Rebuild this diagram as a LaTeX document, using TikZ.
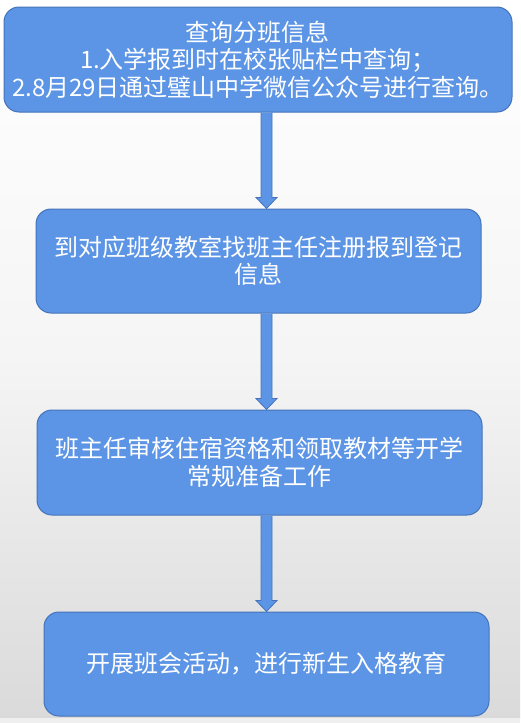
\documentclass[tikz,border=0pt]{standalone}
\usepackage{fontspec}
\setmainfont{Noto Sans CJK SC}
\usetikzlibrary{calc}
\definecolor{boxfill}{RGB}{92,149,229}
\definecolor{boxline}{RGB}{70,115,185}
\definecolor{bgbottom}{RGB}{218,218,218}
\definecolor{bgstrip}{RGB}{239,239,239}
\tikzset{
  stepbox/.style={draw=boxline, line width=1pt, fill=boxfill, rounded corners=15pt,
    text=white, align=center, inner sep=0pt, font=\fontsize{24pt}{27.5pt}\selectfont},
  flowarrow/.style={draw=boxline, line width=0.8pt, fill=boxfill}
}
\begin{document}
\begin{tikzpicture}[x=1pt,y=-1pt]
\useasboundingbox (0,0) rectangle (520,723);
\shade[top color=white, bottom color=bgbottom, middle color=white!96!black, shading angle=0]
  (0,0) rectangle (520,718);
\fill[bgstrip] (0,718) rectangle (520,723);

\node[stepbox, minimum width=508pt, minimum height=105pt] (b1) at (258,59.5)
  {查询分班信息\\1.入学报到时在校张贴栏中查询；\\2.8月29日通过璧山中学微信公众号进行查询。};
\node[stepbox, minimum width=445pt, minimum height=104pt] (b2) at (258.5,261)
  {到对应班级教室找班主任注册报到登记\\信息};
\node[stepbox, minimum width=445pt, minimum height=105pt] (b3) at (259.5,462.5)
  {班主任审核住宿资格和领取教材等开学\\常规准备工作};
\node[stepbox, minimum width=445pt, minimum height=104pt] (b4) at (266.5,664)
  {开展班会活动，进行新生入格教育};

\coordinate (ax) at (266.5,0);
\foreach \a/\b in {b1/b2,b2/b3,b3/b4}{
  \draw[flowarrow] let \p1=(ax |- \a.south), \p2=(ax |- \b.north) in
    (\x1-5.5pt,\y1) -- (\x1-5.5pt,\y2+11pt) -- (\x1-10.5pt,\y2+11pt) -- (\x1,\y2)
    -- (\x1+10.5pt,\y2+11pt) -- (\x1+5.5pt,\y2+11pt) -- (\x1+5.5pt,\y1);
}
\end{tikzpicture}
\end{document}
